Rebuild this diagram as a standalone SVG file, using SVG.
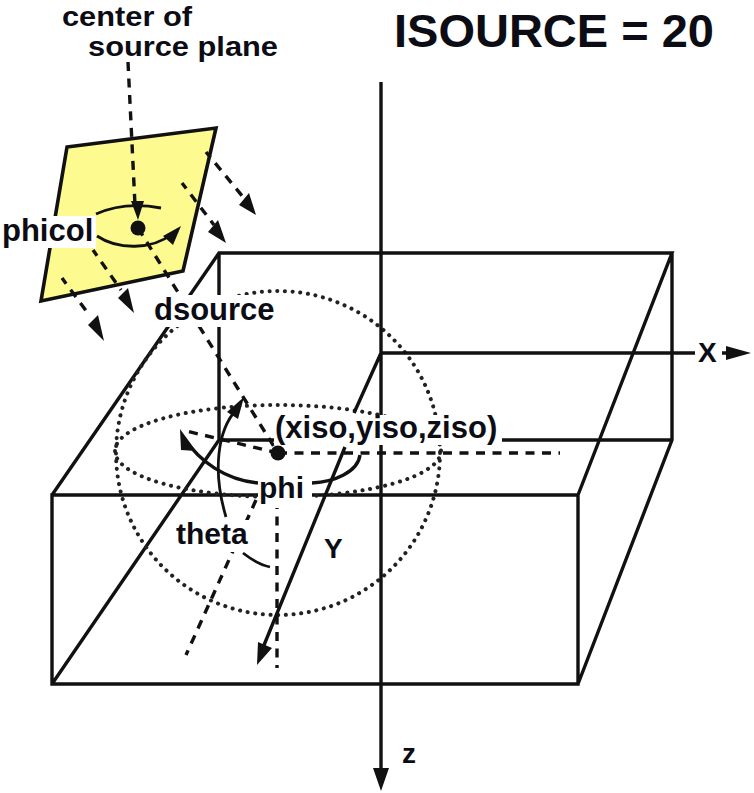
<svg xmlns="http://www.w3.org/2000/svg" width="754" height="793" viewBox="0 0 754 793">
<style>
text{font-family:"Liberation Sans",Arial,sans-serif;fill:#0c0c14;font-weight:bold}
.s{fill:none;stroke:#111;stroke-width:3.4}
.t{fill:none;stroke:#111;stroke-width:2.8}
.d{fill:none;stroke:#111;stroke-width:3.4;stroke-dasharray:9 7.5}
.o{fill:none;stroke:#222;stroke-width:4;stroke-dasharray:.1 7.6;stroke-linecap:round}
.w{fill:#fff}
.a{fill:#111}
</style>
<rect width="754" height="793" fill="#fff"/>
<g id="source-plane"><polygon points="67,147 216,128 183,271 41,301" fill="#fdfb8f" stroke="#111" stroke-width="3.6"/></g>
<g id="box">
<path class="s" d="M52,495H578V684H52ZM52,495L219,253H672L578,495M672,253V440L578,684M52,684L219,440V253M219,440H672"/>
</g>
<g id="sphere">
<circle class="o" cx="278" cy="453" r="162"/>
<ellipse class="o" cx="278" cy="451" rx="163" ry="46"/>
</g>
<g id="connectors">
<path class="d" d="M128,62L135,205M138,228L278,453M278,453H560M278,453L182,430M277,500V668M256,500L186,655"/>
<path class="d" stroke-dashoffset="2" d="M206,152L243,197M182,183L214,225M93,250L121,290M62,278L90,316"/>
<path class="a" d="M131,201H144L138,220ZM256,215L239,205L249,193ZM226,243L208,232L218,220ZM134,313L118,298L128,288ZM104,341L88,325L98,315Z"/>
<circle class="a" cx="138" cy="228" r="7.5"/>
<circle class="a" cx="278" cy="453" r="7.5"/>
<path class="t" d="M96,214C118,204 140,204 161,208M97,236C118,250 152,250 172,234"/>
<path class="a" d="M181,226L173,245L163,236Z"/>
<path class="s" d="M258,483C226,480 200,462 184,438"/>
<path class="a" d="M180,429L196,451L181,450Z"/>
<path class="s" d="M312,483C334,482 358,472 360,455"/>
<path class="t" d="M226,517C212,470 218,430 236,410"/>
<path class="a" d="M244,397L238,419L227,412Z"/>
<path class="t" d="M243,553C252,560 260,565 270,567"/>
<path class="s" d="M381,82V770M381,353H695M722,353H738M381,353L354,413M345,447L262,650"/>
<path class="a" d="M381,791L373,768H389ZM751,353L726,346V360ZM257,665L258,642L272,648Z"/>
</g>
<g id="labels">
<rect class="w" x="0" y="216" width="96" height="32"/>
<rect class="w" x="153" y="295" width="124" height="32"/>
<rect class="w" x="274" y="415" width="228" height="30"/>
<rect class="w" x="258" y="476" width="54" height="32"/>
<rect class="w" x="174" y="520" width="76" height="32"/>
<text x="394" y="47" font-size="47">ISOURCE = 20</text>
<text x="62" y="25.5" font-size="27" textLength="130" lengthAdjust="spacingAndGlyphs">center of</text>
<text x="88" y="55.5" font-size="27" textLength="190" lengthAdjust="spacingAndGlyphs">source plane</text>
<text x="2" y="241" font-size="31">phicol</text>
<text x="154" y="320" font-size="31">dsource</text>
<text x="275" y="438" font-size="31">(xiso,yiso,ziso)</text>
<text x="259" y="498" font-size="30">phi</text>
<text x="176" y="544" font-size="30">theta</text>
<text x="324" y="558" font-size="28">Y</text>
<text x="698" y="362" font-size="28">X</text>
<text x="402" y="763" font-size="28">z</text>
</g>
</svg>
